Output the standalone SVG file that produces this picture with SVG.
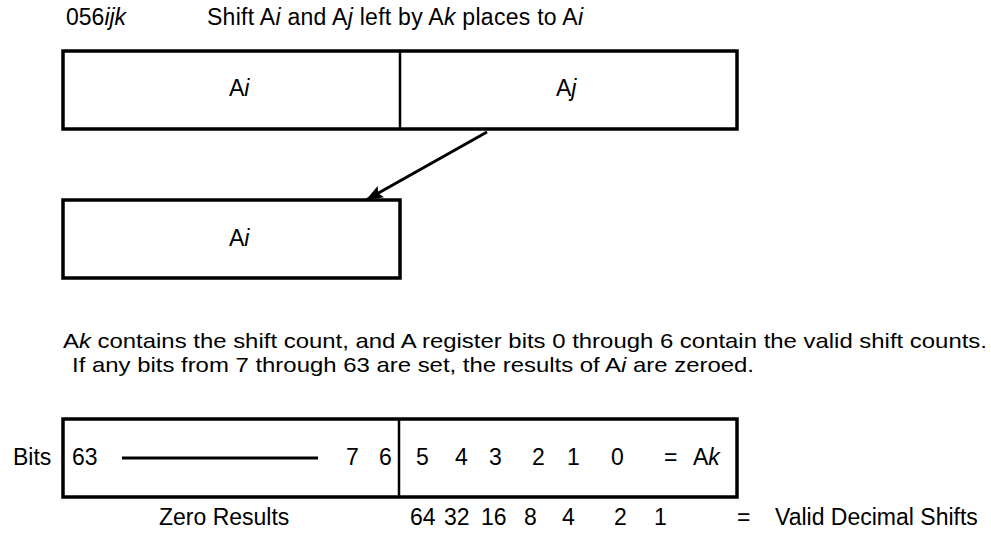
<svg xmlns="http://www.w3.org/2000/svg" width="991" height="533" viewBox="0 0 991 533">
<style>
text{font-family:"Liberation Sans",Arial,Helvetica,sans-serif;font-size:23px;fill:#000}
.i{font-style:italic}
.p{font-size:21px}
.box{fill:none;stroke:#000;stroke-width:3.5}
.div{stroke:#000;stroke-width:2.5}
.conn{stroke:#000;stroke-width:3;fill:none}
</style>
<defs>
<marker id="ah" markerUnits="userSpaceOnUse" markerWidth="18" markerHeight="14" refX="17" refY="6.5" orient="auto">
<path d="M0,0 L17,6.5 L0,13 L3,6.5 z" fill="#000"/>
</marker>
</defs>
<g id="title">
<text x="66" y="25">056<tspan class="i">ijk</tspan></text>
<text x="207" y="25" textLength="376">Shift A<tspan class="i">i</tspan> and A<tspan class="i">j</tspan> left by A<tspan class="i">k</tspan> places to A<tspan class="i">i</tspan></text>
</g>
<g id="source-register">
<rect class="box" x="63" y="51" width="674" height="78"/>
<line class="div" x1="400" y1="51" x2="400" y2="129"/>
<text x="229" y="96">A<tspan class="i">i</tspan></text>
<text x="556" y="96">A<tspan class="i">j</tspan></text>
</g>
<g id="result-register">
<rect class="box" x="63" y="200" width="337" height="78"/>
<text x="229" y="246">A<tspan class="i">i</tspan></text>
</g>
<g id="connectors">
<line class="conn" x1="487" y1="132" x2="366" y2="200" marker-end="url(#ah)"/>
</g>
<g id="note">
<text class="p" x="63" y="348" textLength="924" lengthAdjust="spacingAndGlyphs">A<tspan class="i">k</tspan> contains the shift count, and A register bits 0 through 6 contain the valid shift counts.</text>
<text class="p" x="72" y="372" textLength="682" lengthAdjust="spacingAndGlyphs">If any bits from 7 through 63 are set, the results of A<tspan class="i">i</tspan> are zeroed.</text>
</g>
<g id="ak-register">
<text x="13" y="465">Bits</text>
<rect class="box" x="63" y="419" width="674" height="78"/>
<line class="div" x1="399" y1="419" x2="399" y2="497"/>
<line x1="122" y1="458" x2="318" y2="458" stroke="#000" stroke-width="3"/>
<text x="72" y="465">63</text>
<text x="346" y="465">7</text>
<text x="379" y="465">6</text>
<text x="416" y="465">5</text>
<text x="455" y="465">4</text>
<text x="489" y="465">3</text>
<text x="532" y="465">2</text>
<text x="567" y="465">1</text>
<text x="611" y="465">0</text>
<text x="664" y="465">=</text>
<text x="693" y="465">A<tspan class="i">k</tspan></text>
</g>
<g id="legend">
<text x="159" y="525">Zero Results</text>
<text x="410" y="525">64</text>
<text x="444" y="525">32</text>
<text x="481" y="525">16</text>
<text x="524" y="525">8</text>
<text x="562" y="525">4</text>
<text x="614" y="525">2</text>
<text x="654" y="525">1</text>
<text x="737" y="525">=</text>
<text x="775" y="525">Valid Decimal Shifts</text>
</g>
</svg>
